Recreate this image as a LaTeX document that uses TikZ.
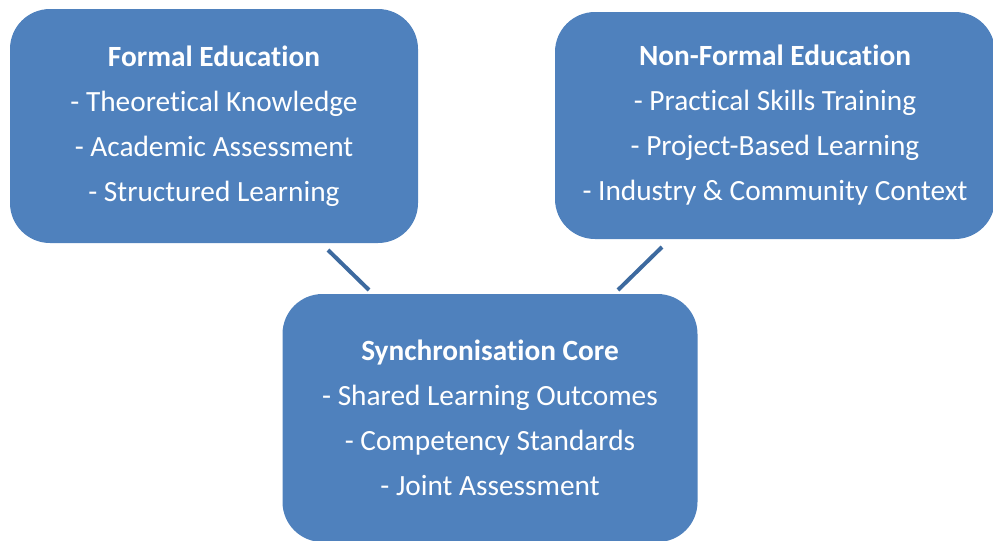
\documentclass[tikz,border=0pt]{standalone}
\usepackage{fontspec}
\setmainfont{Carlito}[Ligatures=NoCommon]
\usetikzlibrary{calc}
\definecolor{boxblue}{HTML}{4F81BD}
\definecolor{linkblue}{HTML}{3D6A9F}

\begin{document}
\begin{tikzpicture}[x=0.75pt,y=-0.75pt,
		block/.style={fill=boxblue, rounded corners=30pt, text=white, align=center, inner sep=0pt,
			font={\fontsize{22}{33.75}\selectfont}},
		link/.style={-, line width=3pt, color=linkblue}]
			\useasboundingbox (0,0) rectangle (993,540);
			\node[block, minimum width=306pt, minimum height=175.5pt] (formal) at (214,126)
				{\textbf{Formal Education}\\- Theoretical Knowledge\\- Academic Assessment\\- Structured Learning};
			\node[block, minimum width=330pt, minimum height=170.25pt] (nonformal) at (775,125.5)
				{\textbf{Non-Formal Education}\\- Practical Skills Training\\- Project-Based Learning\\- Industry \& Community Context};
			\node[block, minimum width=311.25pt, minimum height=186pt] (core) at (490,418)
				{\textbf{Synchronisation Core}\\- Shared Learning Outcomes\\- Competency Standards\\- Joint Assessment};
			% free ends of the two links
			\coordinate (formalEnd) at (328,250);
			\coordinate (coreLeft) at (369,290);
			\coordinate (nonformalEnd) at (662,247);
			\coordinate (coreRight) at (618,290);
			\draw[link] (formalEnd) -- (coreLeft);
			\draw[link] (nonformalEnd) -- (coreRight);
		\end{tikzpicture}
\end{document}
